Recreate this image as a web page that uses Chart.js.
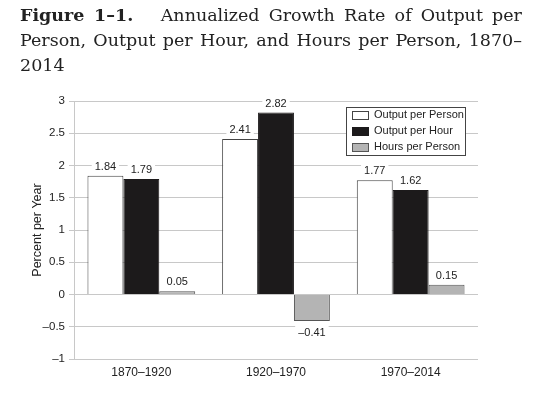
<!DOCTYPE html>
<html>
<head>
<meta charset="utf-8">
<script src="https://cdn.jsdelivr.net/npm/chart.js@4"></script>
<style>
  html, body { margin: 0; padding: 0; background: #fff; }
  #wrap { position: relative; width: 542px; height: 396px; }
  #title {
    position: absolute; left: 20px; top: 3px; width: 502px;
    font-family: "DejaVu Serif", serif; font-size: 17.5px; line-height: 25px;
    color: #222; text-align: justify;
  }
  #title b { font-weight: bold; }
  canvas { position: absolute; left: 0; top: 0; }
</style>
</head>
<body>
<div id="wrap">
  <canvas id="myChart" width="542" height="396"></canvas>
  <div id="title"><b>Figure 1–1.</b>&nbsp;&nbsp; Annualized Growth Rate of Output per Person, Output per Hour, and Hours per Person, 1870–<wbr>2014</div>
</div>
<script>
const periods = ['1870–1920', '1920–1970', '1970–2014'];
const outputPerPerson = [1.84, 2.41, 1.77];
const outputPerHour = [1.79, 2.82, 1.62];
const hoursPerPerson = [0.05, -0.41, 0.15];

const fmt = v => (v < 0 ? '\u2013' : '') + Math.abs(v).toFixed(2);

const labelPlugin = {
  id: 'barLabels',
  afterDatasetsDraw(chart) {
    const c = chart.ctx;
    c.save();
    c.font = '11px "Liberation Sans", Arial, sans-serif';
    c.textAlign = 'center';
    chart.data.datasets.forEach((ds, i) => {
      chart.getDatasetMeta(i).data.forEach((bar, j) => {
        const v = ds.data[j];
        const txt = fmt(v);
        const w = c.measureText(txt).width;
        const y = v >= 0 ? bar.y - 9 : bar.y + 12;
        c.fillStyle = '#fff';
        c.fillRect(bar.x - w / 2 - 3, y - 7, w + 6, 13);
        c.fillStyle = '#222';
        c.textBaseline = 'middle';
        c.fillText(txt, bar.x, y);
      });
    });
    c.restore();
  }
};

const legendPlugin = {
  id: 'boxLegend',
  afterDraw(chart) {
    const c = chart.ctx;
    c.save();
    c.fillStyle = '#fff';
    c.fillRect(346, 107, 119, 48);
    c.strokeStyle = '#444';
    c.lineWidth = 1;
    c.strokeRect(346.5, 107.5, 119, 48);
    c.font = '11px "Liberation Sans", Arial, sans-serif';
    c.textBaseline = 'middle';
    c.textAlign = 'left';
    chart.data.datasets.forEach((ds, i) => {
      const y = 115 + i * 16;
      c.fillStyle = ds.backgroundColor;
      c.fillRect(352, y - 4, 16, 8);
      c.strokeStyle = ds.borderColor;
      c.strokeRect(352.5, y - 3.5, 16, 8);
      c.fillStyle = '#222';
      c.fillText(ds.label, 374, y);
    });
    c.restore();
  }
};

const ctx = document.getElementById('myChart');

new Chart(ctx, {
  type: 'bar',
  data: {
    labels: periods,
    datasets: [{
      label: 'Output per Person',
      data: outputPerPerson,
      backgroundColor: '#ffffff',
      borderColor: '#444444',
      borderWidth: 1
    }, {
      label: 'Output per Hour',
      data: outputPerHour,
      backgroundColor: '#1c1a1b',
      borderColor: '#1c1a1b',
      borderWidth: 1
    }, {
      label: 'Hours per Person',
      data: hoursPerPerson,
      backgroundColor: '#b4b4b4',
      borderColor: '#555555',
      borderWidth: 1
    }]
  },
  plugins: [labelPlugin, legendPlugin],
  options: {
    responsive: false,
    animation: false,
    layout: { padding: { left: 0, top: 101, right: 64, bottom: 0 } },
    categoryPercentage: 0.8,
    barPercentage: 1.0,
    plugins: {
      legend: { display: false },
      tooltip: { enabled: false }
    },
    scales: {
      x: {
        grid: { display: false, drawTicks: false },
        border: { display: false },
        ticks: {
          color: '#222',
          padding: 6,
          font: { family: '"Liberation Sans", Arial, sans-serif', size: 12 }
        },
        afterFit(s) { s.height = 37; }
      },
      y: {
        min: -1,
        max: 3,
        grid: { color: '#c8c8c8', tickLength: 5 },
        border: { display: true, color: '#c8c8c8' },
        ticks: {
          stepSize: 0.5,
          color: '#222',
          padding: 4,
          font: { family: '"Liberation Sans", Arial, sans-serif', size: 11.5 },
          callback: v => (v < 0 ? '\u2013' + Math.abs(v) : String(v))
        },
        title: {
          display: true,
          text: 'Percent per Year',
          color: '#222',
          padding: { top: 30, bottom: 0 },
          font: { family: '"Liberation Sans", Arial, sans-serif', size: 12.5 }
        },
        afterFit(s) { s.width = 74; }
      }
    }
  }
});
</script>
</body>
</html>
